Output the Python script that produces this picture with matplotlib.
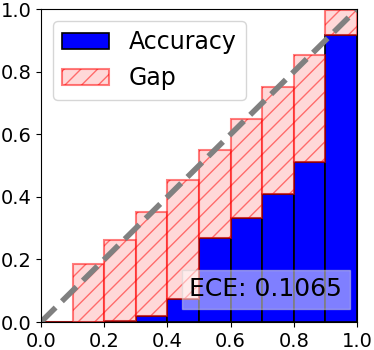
import matplotlib
matplotlib.use("Agg")
import matplotlib.pyplot as plt
import numpy as np

bin_lefts = [0.0, 0.1, 0.2, 0.3, 0.4, 0.5, 0.6, 0.7, 0.8, 0.9]
accuracy = [0.0, 0.0, 0.002, 0.018, 0.074, 0.267, 0.332, 0.41, 0.51, 0.917]
confidence = [0.0, 0.186, 0.261, 0.353, 0.453, 0.549, 0.650, 0.751, 0.854, 0.997]
ece = 0.1065

acc = np.array(accuracy)
gap = np.array(confidence) - acc

plt.rcParams["hatch.color"] = "r"
fig = plt.figure(figsize=(3.74, 3.5), dpi=100)
ax = fig.add_axes([0.1096, 0.08, 0.845, 0.894])

ax.bar(bin_lefts, acc, width=0.1, align="edge", color="b",
       edgecolor="k", linewidth=1.2, label="Accuracy")
ax.bar(bin_lefts, gap, bottom=acc, width=0.1, align="edge",
       color=(1, 0.7, 0.7), alpha=0.5, edgecolor="r", hatch="//",
       linewidth=1.5, label="Gap")
ax.plot([0, 1], [0, 1], "--", color="gray", linewidth=4)

ax.set_xlim(0, 1)
ax.set_ylim(0, 1)
ax.tick_params(labelsize=14)
ax.legend(loc="upper left", fontsize=17)

ax.text(0.953, 0.066, "ECE: %.4f" % ece, transform=ax.transAxes,
        ha="right", va="bottom", fontsize=18,
        bbox=dict(facecolor="white", alpha=0.5, edgecolor="lightgray",
                  boxstyle="square,pad=0.3"))

fig.savefig("out.png", dpi=100)
